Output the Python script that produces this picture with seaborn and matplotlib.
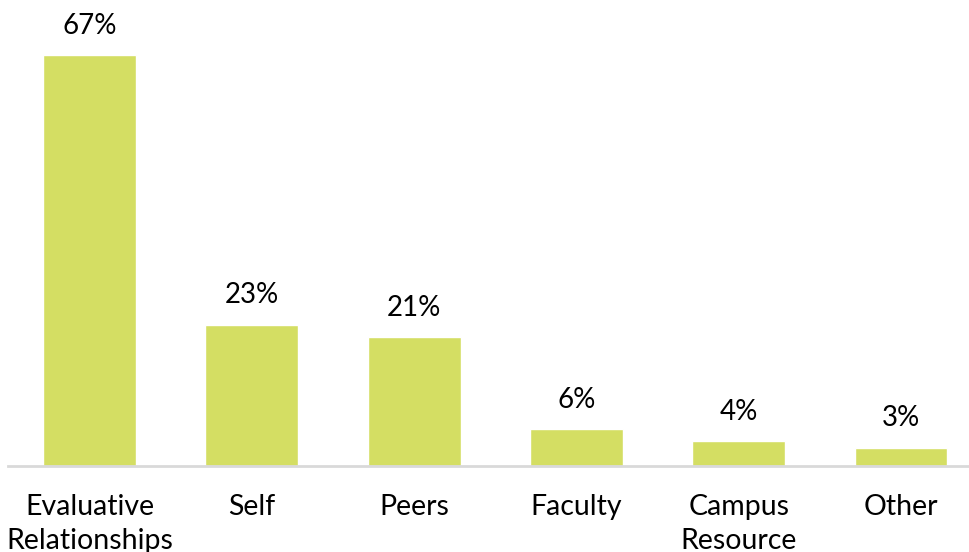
import pandas as pd
import matplotlib.pyplot as plt
import seaborn as sns

# --- data ---
categories = ["Evaluative\nRelationships", "Self", "Peers", "Faculty", "Campus\nResource", "Other"]
values = [67, 23, 21, 6, 4, 3]

df = pd.DataFrame({"source": categories, "pct": values})

sns.set_theme(style="white")
plt.rcParams["font.family"] = ["Lato", "DejaVu Sans"]

fig = plt.figure(figsize=(9.7, 5.52), dpi=100)
# axes slightly wider than the canvas so the last slot runs off the right edge
ax = fig.add_axes([8.35 / 970, 86 / 552, 973.8 / 970, 466 / 552])

sns.barplot(data=df, x="source", y="pct", color="#D4DE63", width=0.573,
            saturation=1, ax=ax)

ax.set_xlim(-0.5, 5.5)
ax.set_ylim(0, 76)
for b in ax.containers:
    ax.bar_label(b, labels=[f"{v}%" for v in values], padding=12,
                 fontsize=20, color="black")

ax.set_xlabel("")
ax.set_ylabel("")
ax.set_yticks([])
ax.tick_params(axis="x", length=0, pad=20, labelsize=20.5, colors="black")
for lbl in ax.get_xticklabels():
    lbl.set_linespacing(1.4)

sns.despine(ax=ax, left=True, top=True, right=True)
ax.spines["bottom"].set_color("#D9D9D9")
ax.spines["bottom"].set_linewidth(2)

fig.savefig("out.png", dpi=100)
